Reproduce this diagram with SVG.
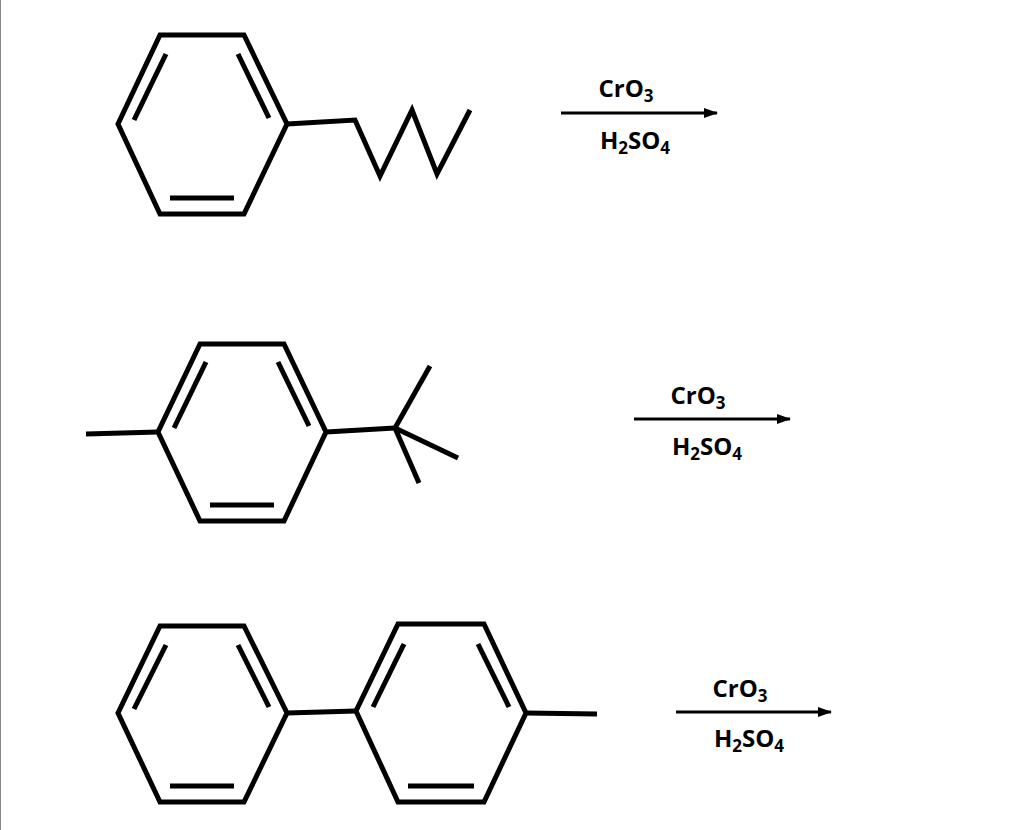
<svg xmlns="http://www.w3.org/2000/svg" width="1024" height="830" viewBox="0 0 1024 830">
<style>
.b{fill:none;stroke:#000;stroke-width:5;stroke-linejoin:miter;stroke-linecap:butt}
.t{font-family:"Open Sans","Liberation Sans",sans-serif;font-size:24px;font-weight:bold;fill:#000;text-anchor:middle}
.s{font-size:17px}
.a{stroke:#000;stroke-width:3}
</style>
<defs><marker id="ah" markerWidth="14" markerHeight="10" refX="13" refY="5" orient="auto" markerUnits="userSpaceOnUse"><path d="M0,0L14,5L0,10z" fill="#000"/></marker></defs>
<rect x="0" y="0" width="1024" height="830" fill="#fff"/>
<line x1="0.5" y1="0" x2="0.5" y2="830" stroke="#888" stroke-width="1"/>
<g id="mol1">
<polygon class="b" points="160,35 244,35 287,124 244,214 160,214 118,124"/>
<line class="b" x1="134" y1="120" x2="166" y2="54"/>
<line class="b" x1="238" y1="54" x2="269" y2="118"/>
<line class="b" x1="170" y1="198" x2="234" y2="198"/>
<polyline class="b" points="287,124 355,120 380,176 412,110 437,174 470,110"/>
</g>
<g id="mol2">
<polygon class="b" points="200,344 284,344 326,432 284,521 200,521 158,432"/>
<line class="b" x1="174" y1="428" x2="206" y2="362"/>
<line class="b" x1="278" y1="362" x2="309" y2="426"/>
<line class="b" x1="210" y1="505" x2="274" y2="505"/>
<line class="b" x1="86" y1="434" x2="158" y2="432"/>
<polyline class="b" points="326,432 395,428"/>
<line class="b" x1="395" y1="428" x2="430" y2="366"/>
<line class="b" x1="395" y1="428" x2="458" y2="458"/>
<line class="b" x1="395" y1="428" x2="419" y2="483"/>
</g>
<g id="mol3">
<polygon class="b" points="160,626 244,626 287,713 244,802 160,802 118,713"/>
<line class="b" x1="134" y1="709" x2="166" y2="645"/>
<line class="b" x1="238" y1="645" x2="269" y2="707"/>
<line class="b" x1="170" y1="786" x2="234" y2="786"/>
<polygon class="b" points="398,624 484,624 526,713 484,802 398,802 356,711"/>
<line class="b" x1="373" y1="707" x2="404" y2="644"/>
<line class="b" x1="478" y1="644" x2="509" y2="707"/>
<line class="b" x1="408" y1="786" x2="474" y2="786"/>
<line class="b" x1="287" y1="713" x2="356" y2="711"/>
<line class="b" x1="526" y1="713" x2="597" y2="714"/>
</g>
<g id="connectors">
<line class="a" x1="561" y1="113" x2="717" y2="113" marker-end="url(#ah)"/>
<line class="a" x1="634" y1="419" x2="790" y2="419" marker-end="url(#ah)"/>
<line class="a" x1="676" y1="712" x2="831" y2="712" marker-end="url(#ah)"/>
</g>
<g id="labels">
<text class="t" x="626" y="97">CrO<tspan class="s" dy="5">3</tspan></text>
<text class="t" x="635" y="149">H<tspan class="s" dy="5">2</tspan><tspan dy="-5">SO</tspan><tspan class="s" dy="5">4</tspan></text>
<text class="t" x="698" y="404">CrO<tspan class="s" dy="5">3</tspan></text>
<text class="t" x="707" y="455">H<tspan class="s" dy="5">2</tspan><tspan dy="-5">SO</tspan><tspan class="s" dy="5">4</tspan></text>
<text class="t" x="740" y="697">CrO<tspan class="s" dy="5">3</tspan></text>
<text class="t" x="749" y="747">H<tspan class="s" dy="5">2</tspan><tspan dy="-5">SO</tspan><tspan class="s" dy="5">4</tspan></text>
</g>
</svg>
